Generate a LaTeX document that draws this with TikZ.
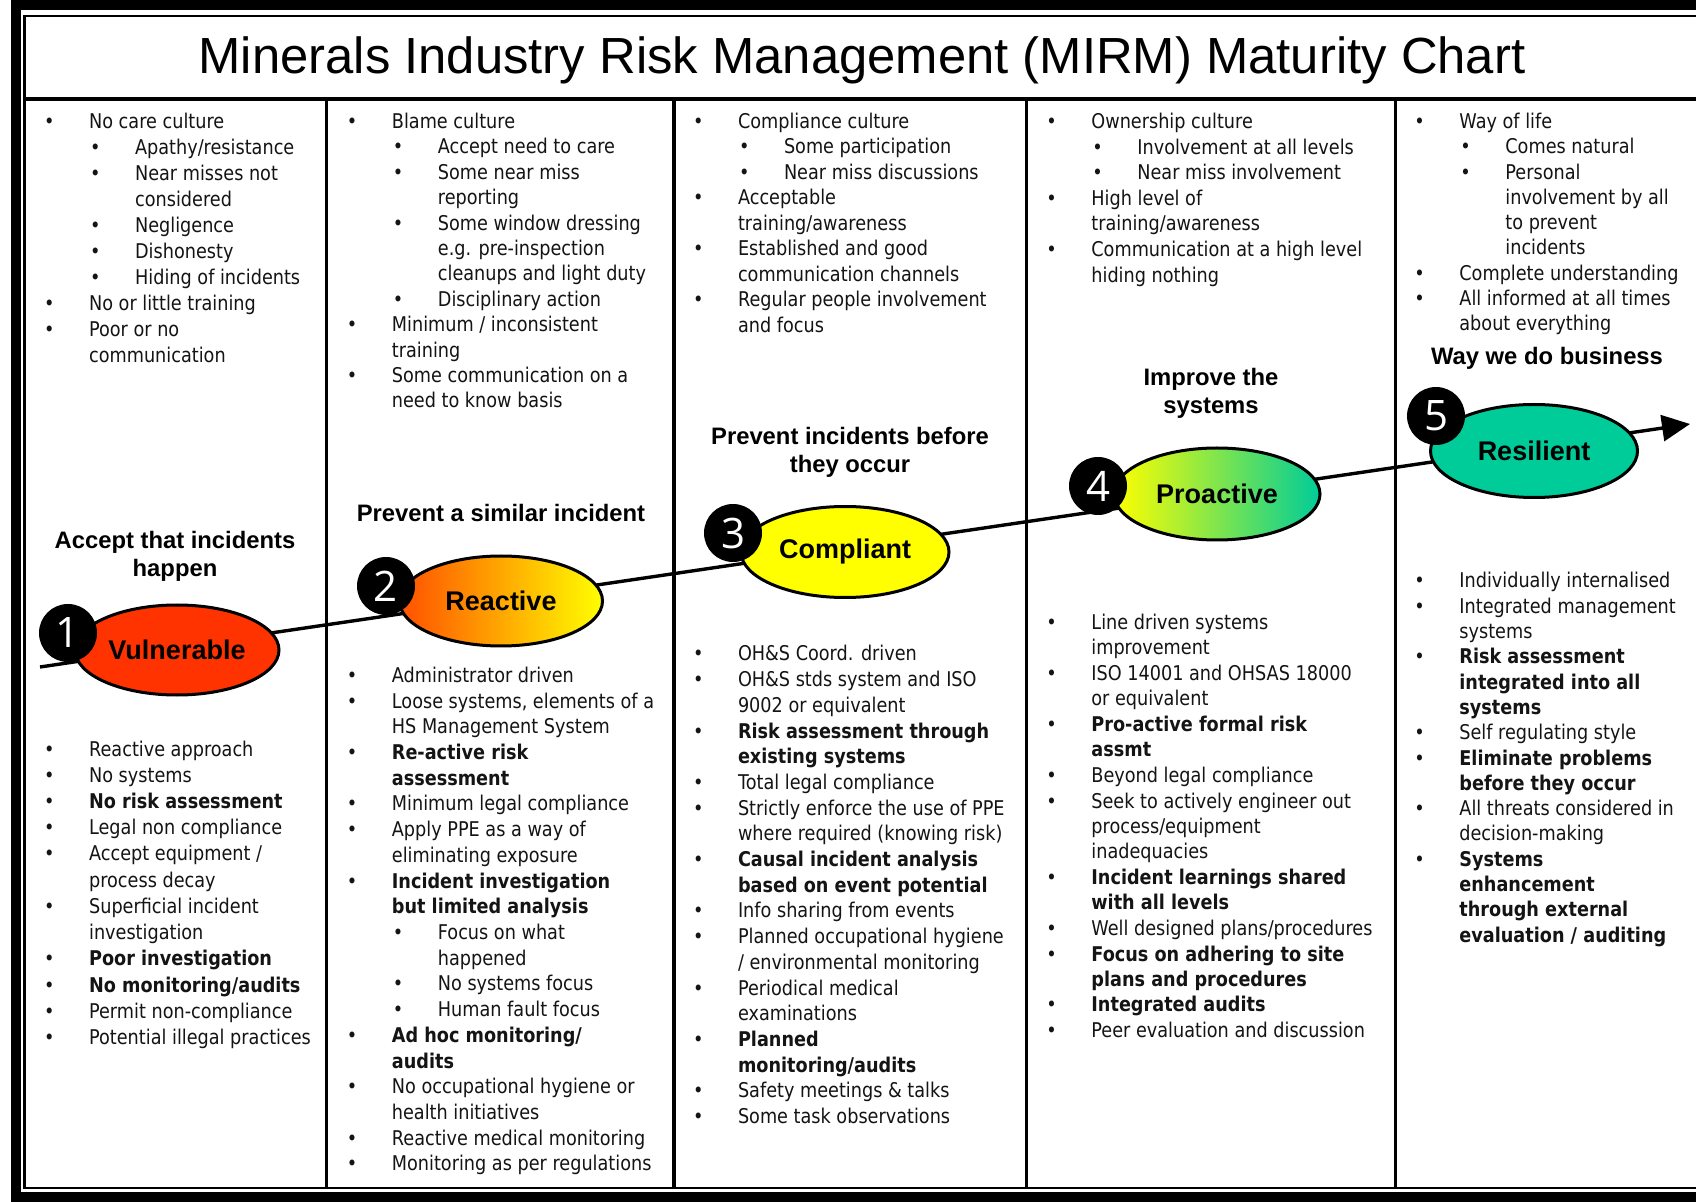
\documentclass[tikz,border=0pt]{standalone}
\usepackage{fontspec}
\newfontfamily\bodyfont[FakeStretch=0.87]{DejaVu Sans}
\newfontfamily\headfont{Liberation Sans}
\newfontfamily\numfont{Open Sans}
\usetikzlibrary{shapes.geometric,arrows.meta}
\definecolor{vulred}{RGB}{255,51,0}
\definecolor{reaorange}{RGB}{255,80,0}
\definecolor{yel}{RGB}{255,255,0}
\definecolor{teal}{RGB}{0,204,153}
\definecolor{bodytext}{RGB}{20,20,20}
\newcommand\itm[1]{\par\hangindent=22.5pt\hangafter=1\noindent\makebox[22.5pt][l]{\textbullet}#1}
\newcommand\sitm[1]{\par\hangindent=45.5pt\hangafter=1\noindent\hspace*{23pt}\makebox[22.5pt][l]{\textbullet}#1}
\newcommand\blist[2]{\parbox[t]{190pt}{\bodyfont\fontsize{10.15pt}{#1}\selectfont\raggedright\let\\\newline\parindent=0pt\parskip=0pt #2}}
\newcommand\hd[1]{\begin{tabular}[t]{@{}c@{}}#1\end{tabular}}
\begin{document}
\begin{tikzpicture}[x=0.5pt,y=-0.5pt,
  stage/.style={ellipse, draw=black, line width=1.5pt, inner sep=0pt,
    font=\headfont\bfseries\fontsize{13.5pt}{16pt}\selectfont},
  numc/.style={circle, fill=black, inner sep=0pt, minimum size=29pt, text=white,
    font=\numfont\fontsize{21pt}{21pt}\selectfont},
  head/.style={anchor=base, inner sep=0pt, font=\headfont\bfseries\fontsize{11.9pt}{14pt}\selectfont},
  lst/.style={anchor=base west, inner sep=0pt, text=bodytext},
  thickframe/.style={draw=black, line width=5pt},
  thinframe/.style={draw=black, line width=1.3pt},
  divider/.style={draw=black, line width=1.8pt}
]
\useasboundingbox (0,0) rectangle (1696,1202);
\fill[white] (0,0) rectangle (1696,1202);
% frame
\draw[thickframe] (16,5) rectangle (1740,1197);
\draw[thinframe] (24.5,16) rectangle (1712,1188);
\draw[divider] (24.5,99) -- (1712,99);
\draw[divider] (326.6,99) -- (326.6,1188);
\draw[divider] (673.8,99) -- (673.8,1188);
\draw[divider] (1026.4,99) -- (1026.4,1188);
\draw[divider] (1395.3,99) -- (1395.3,1188);
% title
\node[anchor=base, inner sep=0pt, font=\headfont\fontsize{25.4pt}{30pt}\selectfont] (title) at (862,73.5)
  {Minerals Industry Risk Management (MIRM) Maturity Chart};
% arrow
\coordinate (s) at (40,667);
\coordinate (e) at (1690,424);
\draw[line width=1.7pt, -{Triangle[length=14pt,width=13pt]}] (s) -- (e);
% stages
\node[stage, minimum width=102pt, minimum height=45pt, fill=vulred] (vul) at (177,650) {Vulnerable};
\node[stage, minimum width=101.5pt, minimum height=45pt, left color=reaorange, right color=yel] (rea) at (501,601) {Reactive};
\node[stage, minimum width=104pt, minimum height=45.5pt, fill=yel] (com) at (845,552) {Compliant};
\node[stage, minimum width=103pt, minimum height=46pt, left color=yel, right color=teal] (pro) at (1217,494) {Proactive};
\node[stage, minimum width=103.5pt, minimum height=46.5pt, fill=teal] (res) at (1534,451) {Resilient};
\node[numc] (n1) at (68,633) {1};
\node[numc] (n2) at (386,586) {2};
\node[numc] (n3) at (733,533) {3};
\node[numc] (n4) at (1098,486) {4};
\node[numc] (n5) at (1436,416) {5};
% headings
\node[head] (h1) at (175,549) {\hd{Accept that incidents\\happen}};
\node[head] (h2) at (501,522) {\hd{Prevent a similar incident}};
\node[head] (h3) at (850,444.5) {\hd{Prevent incidents before\\they occur}};
\node[head] (h4) at (1211,386) {\hd{Improve the\\systems}};
\node[head] (h5) at (1547,364.5) {\hd{Way we do business}};
% top lists
\node[lst] (t1) at (43.7,128.5) {\blist{12.98pt}{%
\itm{No care culture}
\sitm{Apathy/resistance}
\sitm{Near misses not\\considered}
\sitm{Negligence}
\sitm{Dishonesty}
\sitm{Hiding of incidents}
\itm{No or little training}
\itm{Poor or no\\communication}}};
\node[lst] (t2) at (346.5,128.5) {\blist{12.7pt}{%
\itm{Blame culture}
\sitm{Accept need to care}
\sitm{Some near miss\\reporting}
\sitm{Some window dressing\\e.g. pre-inspection\\cleanups and light duty}
\sitm{Disciplinary action}
\itm{Minimum / inconsistent\\training}
\itm{Some communication on a\\need to know basis}}};
\node[lst] (t3) at (692.6,128.5) {\blist{12.75pt}{%
\itm{Compliance culture}
\sitm{Some participation}
\sitm{Near miss discussions}
\itm{Acceptable\\training/awareness}
\itm{Established and good\\communication channels}
\itm{Regular people involvement\\and focus}}};
\node[lst] (t4) at (1046,128.5) {\blist{12.8pt}{%
\itm{Ownership culture}
\sitm{Involvement at all levels}
\sitm{Near miss involvement}
\itm{High level of\\training/awareness}
\itm{Communication at a high level\\hiding nothing}}};
\node[lst] (t5) at (1414,128.5) {\blist{12.65pt}{%
\itm{Way of life}
\sitm{Comes natural}
\sitm{Personal\\involvement by all\\to prevent\\incidents}
\itm{Complete understanding}
\itm{All informed at all times\\about everything}}};
% bottom lists
\node[lst] (b1) at (43.7,756) {\blist{13.12pt}{%
\itm{Reactive approach}
\itm{No systems}
\itm{\textbf{No risk assessment}}
\itm{Legal non compliance}
\itm{Accept equipment /\\process decay}
\itm{Superficial incident\\investigation}
\itm{\textbf{Poor investigation}}
\itm{\textbf{No monitoring/audits}}
\itm{Permit non-compliance}
\itm{Potential illegal practices}}};
\node[lst] (b2) at (346.5,682.5) {\blist{12.85pt}{%
\itm{Administrator driven}
\itm{Loose systems, elements of a\\HS Management System}
\itm{\textbf{Re-active risk\\assessment}}
\itm{Minimum legal compliance}
\itm{Apply PPE as a way of\\eliminating exposure}
\itm{\textbf{Incident investigation\\but limited analysis}}
\sitm{Focus on what\\happened}
\sitm{No systems focus}
\sitm{Human fault focus}
\itm{\textbf{Ad hoc monitoring/\\audits}}
\itm{No occupational hygiene or\\health initiatives}
\itm{Reactive medical monitoring}
\itm{Monitoring as per regulations}}};
\node[lst] (b3) at (692.6,661) {\blist{12.85pt}{%
\itm{OH\&S Coord. driven}
\itm{OH\&S stds system and ISO\\9002 or equivalent}
\itm{\textbf{Risk assessment through\\existing systems}}
\itm{Total legal compliance}
\itm{Strictly enforce the use of PPE\\where required (knowing risk)}
\itm{\textbf{Causal incident analysis\\based on event potential}}
\itm{Info sharing from events}
\itm{Planned occupational hygiene\\/ environmental monitoring}
\itm{Periodical medical\\examinations}
\itm{\textbf{Planned\\monitoring/audits}}
\itm{Safety meetings \& talks}
\itm{Some task observations}}};
\node[lst] (b4) at (1046,629.5) {\blist{12.75pt}{%
\itm{Line driven systems\\improvement}
\itm{ISO 14001 and OHSAS 18000\\or equivalent}
\itm{\textbf{Pro-active formal risk\\assmt}}
\itm{Beyond legal compliance}
\itm{Seek to actively engineer out\\process/equipment\\inadequacies}
\itm{\textbf{Incident learnings shared\\with all levels}}
\itm{Well designed plans/procedures}
\itm{\textbf{Focus on adhering to site\\plans and procedures}}
\itm{\textbf{Integrated audits}}
\itm{Peer evaluation and discussion}}};
\node[lst] (b5) at (1414,588) {\blist{12.65pt}{%
\itm{Individually internalised}
\itm{Integrated management\\systems}
\itm{\textbf{Risk assessment\\integrated into all\\systems}}
\itm{Self regulating style}
\itm{\textbf{Eliminate problems\\before they occur}}
\itm{All threats considered in\\decision-making}
\itm{\textbf{Systems\\enhancement\\through external\\evaluation / auditing}}}};
\end{tikzpicture}
\end{document}
